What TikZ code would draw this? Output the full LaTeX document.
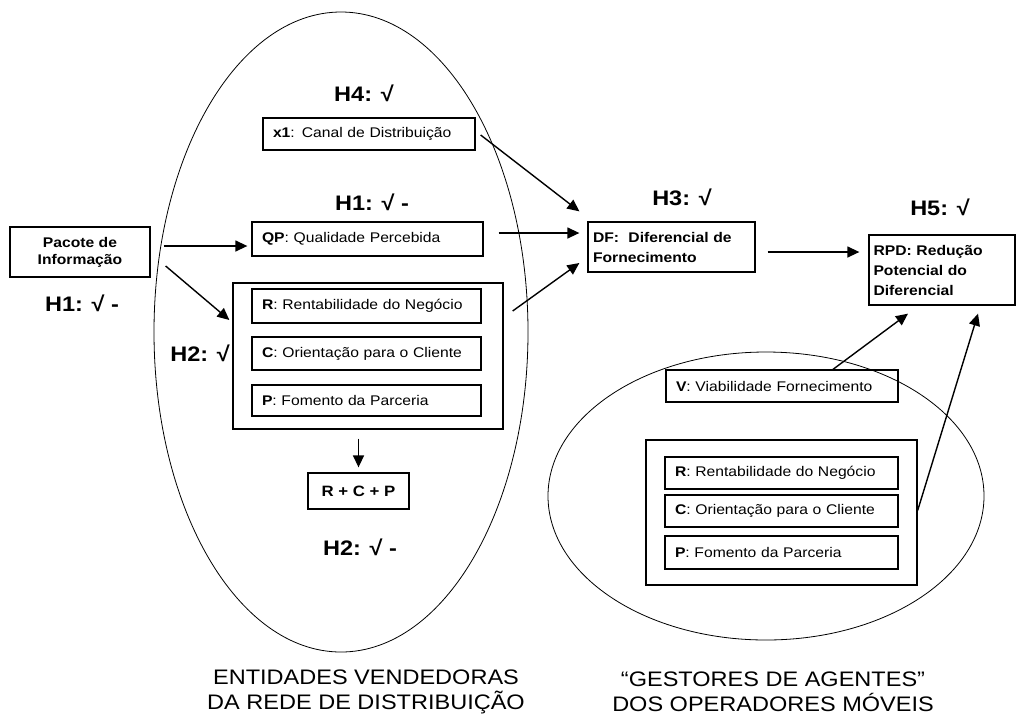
\documentclass[tikz,border=0pt]{standalone}
\usepackage{fontspec}
\setmainfont[FakeStretch=1.12]{Liberation Sans}
\usetikzlibrary{arrows.meta,shapes.geometric}
\begin{document}
\begin{tikzpicture}[x=1pt,y=-1pt,
  every node/.style={inner sep=0pt},
  rim/.style={draw, ellipse, line width=0.8pt},
  box/.style={draw, line width=1.3pt},
  txt/.style={font=\fontsize{14}{17}\selectfont},
  btxt/.style={font=\bfseries\fontsize{14}{20}\selectfont},
  lbox/.style n args={2}{box, txt, align=left, text width=#1, inner xsep=10pt, minimum height=#2},
  hyp/.style={font=\bfseries\fontsize{21}{25}\selectfont},
  captxt/.style={font=\fontsize{21}{25}\selectfont, align=center},
  arr/.style={line width=1.4pt, -{Triangle[length=12pt,width=11pt]}}
]
\useasboundingbox (0,0) rectangle (1016,716);
\fill[white] (0,0) rectangle (1016,716);

% ellipses
\node[rim, minimum width=374pt, minimum height=640pt] (ellL) at (341,332) {};
\node[rim, minimum width=436pt, minimum height=288pt] (ellR) at (766,496) {};

% left group
\node[box, btxt, align=center, minimum width=140pt, minimum height=50pt] (pac) at (80,252) {Pacote de\\[-3pt]Informação};
\node[hyp] (h1a) at (82,303) {H1: √ -};
\node[hyp] (h4) at (364,93) {H4: √};
\node[lbox={192pt}{32pt}] (x1) at (369,134) {\textbf{x1}: Canal de Distribuição};
\node[hyp] (h1b) at (372,202) {H1: √ -};
\node[lbox={211pt}{34pt}] (qp) at (367.5,239) {\textbf{QP}: Qualidade Percebida};

\node[box, minimum width=270pt, minimum height=146pt] (outL) at (368,356) {};
\node[lbox={209pt}{34pt}] (rL) at (366.5,306) {\textbf{R}: Rentabilidade do Negócio};
\node[lbox={209pt}{33pt}] (cL) at (366.5,353.5) {\textbf{C}: Orientação para o Cliente};
\node[lbox={209pt}{31pt}] (pL) at (366.5,400.5) {\textbf{P}: Fomento da Parceria};
\node[hyp, anchor=east] (h2a) at (230,353) {H2: √};

\node[box, font=\bfseries\fontsize{15}{18}\selectfont, minimum width=101pt, minimum height=36pt] (rcp) at (358.5,491) {R + C + P};
\node[hyp] (h2b) at (360,547) {H2: √ -};

\node[captxt] (capL) at (366,692) {ENTIDADES VENDEDORAS\\DA REDE DE DISTRIBUIÇÃO};

% middle / right
\node[hyp] (h3) at (682,197) {H3: √};
\node[box, btxt, align=left, text width=157pt, inner xsep=5pt, minimum height=50pt] (df) at (671.5,247) {DF:\ \ Diferencial de\\Fornecimento};
\node[hyp] (h5) at (940,207) {H5: √};
\node[box, btxt, align=left, text width=137pt, inner xsep=4.5pt, minimum height=70pt] (rpd) at (942,270) {RPD:\ Redução\\Potencial do\\Diferencial};

\node[lbox={212pt}{32pt}] (v) at (782,386) {\textbf{V}: Viabilidade Fornecimento};
\node[box, minimum width=271pt, minimum height=145pt] (outR) at (781.5,512.5) {};
\node[lbox={213pt}{32pt}] (rR) at (781.5,473) {\textbf{R}: Rentabilidade do Negócio};
\node[lbox={213pt}{32pt}] (cR) at (781.5,511) {\textbf{C}: Orientação para o Cliente};
\node[lbox={213pt}{33pt}] (pR) at (781.5,552.5) {\textbf{P}: Fomento da Parceria};

\node[captxt] (capR) at (773,692) {“GESTORES DE AGENTES”\\DOS OPERADORES MÓVEIS};

% connectors
\draw[arr] ([xshift=13pt,yshift=6pt]pac.east) -- ([xshift=-4pt,yshift=-7pt]qp.west);
\draw[arr] ([xshift=15pt,yshift=-14pt]pac.east) -- ([xshift=-3pt,yshift=36pt]outL.west);
\draw[arr] ([xshift=5pt,yshift=-1pt]x1.east) -- ([xshift=-8pt,yshift=10pt]df.north west);
\draw[arr] ([xshift=15pt,yshift=6pt]qp.east) -- ([xshift=-8pt,yshift=14pt]df.west);
\draw[arr] ([xshift=9pt,yshift=45pt]outL.east) -- ([xshift=-8pt,yshift=-16pt]df.west);
\draw[arr, shorten <=9pt, shorten >=5pt] (outL.south -| rcp.north) -- (rcp.north);
\draw[arr] ([xshift=12pt,yshift=-5pt]df.east) -- ([xshift=-9pt,yshift=18pt]rpd.west);
\draw[arr] ([xshift=51pt]v.north) -- ([xshift=-34pt,yshift=-8pt]rpd.south);
\draw[arr] ([yshift=2pt]outR.east) -- ([xshift=36pt,yshift=-8pt]rpd.south);
\end{tikzpicture}
\end{document}
